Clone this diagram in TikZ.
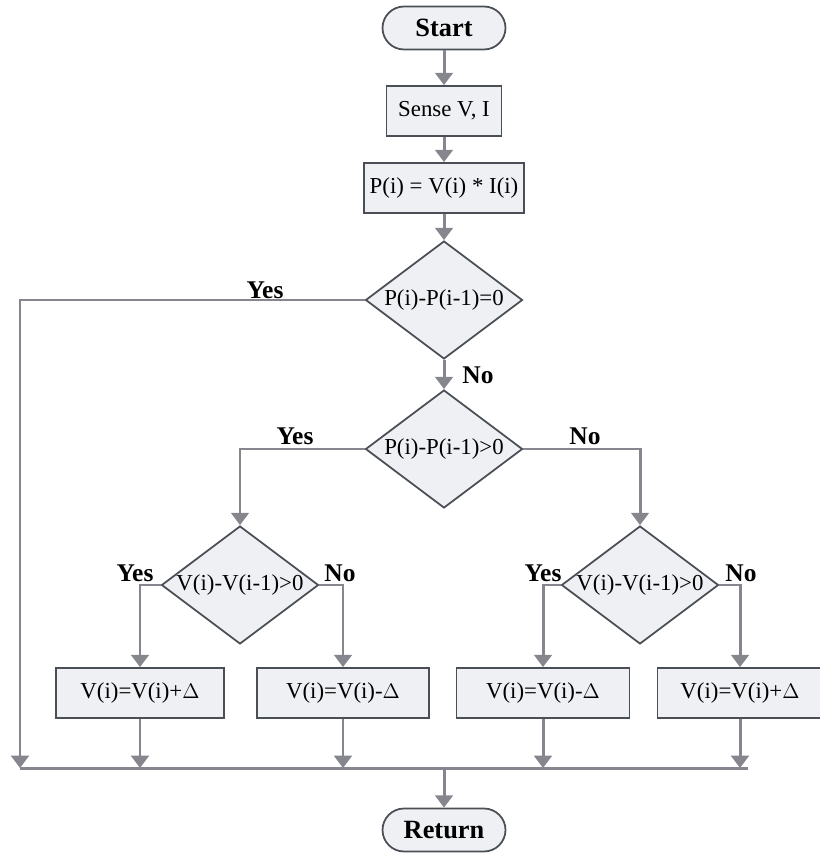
\documentclass[tikz,border=0pt]{standalone}
\usepackage{fontspec}
\setmainfont{Liberation Serif}
\usetikzlibrary{shapes.geometric,arrows.meta}
\definecolor{boxfill}{HTML}{EFF0F4}
\definecolor{boxline}{HTML}{4A4E55}
\definecolor{flowline}{HTML}{85868E}
\begin{document}
\begin{tikzpicture}[x=0.02cm, y=-0.02cm]
  \useasboundingbox (0, 0) rectangle (819, 861);  % Rand wie im Original.
  \tikzstyle{term}=[draw=boxline, fill=boxfill, line width=1pt, rounded corners=0.43cm, minimum width=2.46cm, minimum height=0.86cm, font=\fontsize{15}{17}\selectfont\bfseries]
  \tikzstyle{proc}=[draw=boxline, fill=boxfill, line width=1pt, minimum height=1cm, font=\fontsize{13}{15}\selectfont]
  \tikzstyle{test}=[diamond, draw=boxline, fill=boxfill, line width=1pt, inner sep=0pt, shape aspect=1.35, minimum width=3.14cm, minimum height=2.36cm, font=\fontsize{13}{15}\selectfont]
  \tikzstyle{line}=[draw=flowline, line width=1.7pt]
  \tikzstyle{arrow}=[line, -{Triangle[width=10pt, length=7pt]}]
  \tikzstyle{answer}=[font=\fontsize{14.5}{16}\selectfont\bfseries]

  \node[term] (1) at (444, 28)  {Start};
  \node[proc, minimum width=2.3cm]  (2) at (444, 111) {Sense V, I};
  \node[proc, minimum width=2.84cm] (3) at (444, 188) {P(i) = V(i) * I(i)};
  \node[test] (4) at (444, 300) {P(i)-P(i-1)=0};
  \node[test] (5) at (444, 449) {P(i)-P(i-1)>0};
  \node[test] (6) at (240, 585) {V(i)-V(i-1)>0};
  \node[test] (7) at (640, 585) {V(i)-V(i-1)>0};

  \node[proc, minimum width=3.36cm] (8)  at (140, 693) {V(i)=V(i)+$\Delta$};
  \node[proc, minimum width=3.44cm] (9)  at (343, 693) {V(i)=V(i)-$\Delta$};
  \node[proc, minimum width=3.46cm] (10) at (543, 693) {V(i)=V(i)-$\Delta$};
  \node[proc, minimum width=3.3cm]  (11) at (740, 693) {V(i)=V(i)+$\Delta$};
  \node[term] (12) at (444, 830) {Return};

  \coordinate (a) at (20, 768);
  \coordinate (b) at (748, 768);
  \coordinate (m) at (444, 768);

  \draw[arrow] (1) -- (2);
  \draw[arrow] (2) -- (3);
  \draw[arrow] (3) -- (4);
  \draw[arrow] (4) -- (5);
  \draw[arrow] (4.west) -| (a);
  \draw[line] (a) -- (b);
  \draw[arrow] (5.west) -| (6);
  \draw[arrow] (5.east) -| (7);
  \draw[arrow] (6.west) -| (8);
  \draw[arrow] (6.east) -| (9);
  \draw[arrow] (7.west) -| (10);
  \draw[arrow] (7.east) -| (11);
  \draw[arrow] (8)  -- (8 |- a);
  \draw[arrow] (9)  -- (9 |- a);
  \draw[arrow] (10) -- (10 |- a);
  \draw[arrow] (11) -- (11 |- a);
  \draw[arrow] (m) -- (12);

  \node[answer] (y1) at (265, 290) {Yes};
  \node[answer] (n1) at (478, 375) {No};
  \node[answer] (y2) at (295, 436) {Yes};
  \node[answer] (n2) at (585, 436) {No};
  \node[answer] (y3) at (135, 573) {Yes};
  \node[answer] (n3) at (340, 573) {No};
  \node[answer] (y4) at (543, 573) {Yes};
  \node[answer] (n4) at (741, 573) {No};
\end{tikzpicture}
\end{document}
